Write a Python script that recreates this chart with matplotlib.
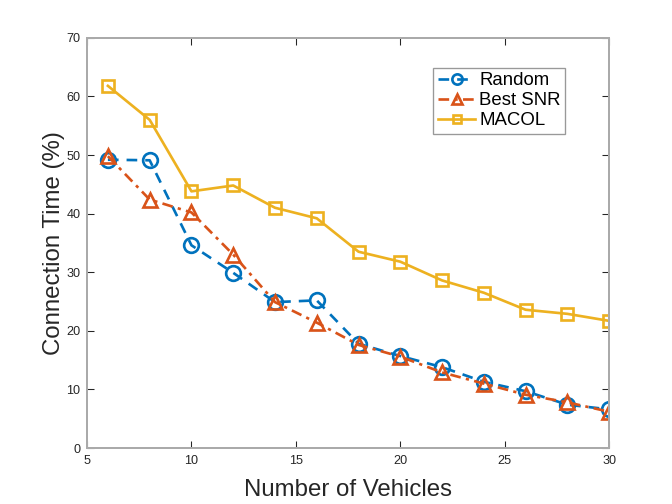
import matplotlib
matplotlib.use('Agg')
import matplotlib.pyplot as plt

plt.rcParams['font.family'] = ['Liberation Sans', 'DejaVu Sans']

# число машин
vehicles = [6, 8, 10, 12, 14, 16, 18, 20, 22, 24, 26, 28, 30]
random_sel = [49.2, 49.1, 34.6, 29.9, 24.9, 25.2, 17.8, 15.7, 13.8, 11.3, 9.7, 7.4, 6.6]
best_snr = [49.8, 42.4, 40.2, 33.0, 24.9, 21.4, 17.6, 15.6, 12.9, 11.0, 9.1, 7.8, 6.2]
macol = [61.8, 56.0, 43.8, 44.8, 41.0, 39.2, 33.5, 31.8, 28.6, 26.5, 23.6, 22.9, 21.7]

fig = plt.figure(figsize=(7, 5.25), dpi=96)
ax = fig.add_axes([0.1295, 0.111, 0.777, 0.814])

ax.plot(vehicles, random_sel, '--o', color='#0072BD', lw=2, ms=11,
        mfc='none', mew=2, label='Random', dashes=(4, 3))
ax.plot(vehicles, best_snr, '-.^', color='#D95319', lw=2, ms=11,
        mfc='none', mew=2, label='Best SNR', dashes=(4, 2, 1.2, 2))
ax.plot(vehicles, macol, '-s', color='#EDB120', lw=2, ms=9,
        mfc='none', mew=2, label='MACOL')

ax.set_xlim(5, 30)
ax.set_ylim(0, 70)
ax.set_xticks([5, 10, 15, 20, 25, 30])
ax.set_yticks(range(0, 71, 10))
ax.tick_params(direction='in', length=5, labelsize=9.5, colors='#262626',
               top=True, right=True, pad=5)
for s in ax.spines.values():
    s.set_color('#aaaaaa')
    s.set_linewidth(1.5)

ax.set_xlabel('Number of Vehicles', fontsize=18, color='#262626', labelpad=9)
ax.set_ylabel('Connection Time (%)', fontsize=18, color='#262626', labelpad=1)

leg = ax.legend(loc='upper right', bbox_to_anchor=(0.916, 0.927), fontsize=14,
                fancybox=False, framealpha=1, edgecolor='#999999',
                handlelength=2.0, handletextpad=0.2, borderpad=0.25,
                borderaxespad=0, labelspacing=0.15, markerscale=0.7)
leg.get_frame().set_linewidth(1)

fig.savefig('out.png', dpi=96)
